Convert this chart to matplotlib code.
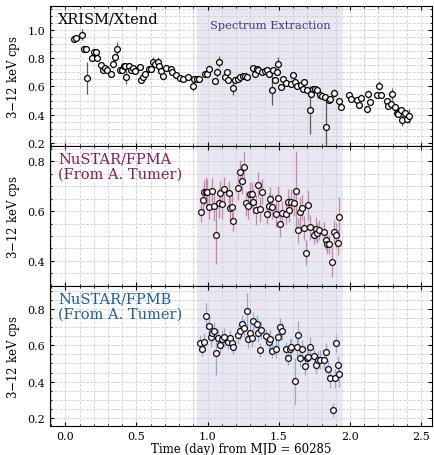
import numpy as np
import matplotlib
matplotlib.use("Agg")
import matplotlib.pyplot as plt
from matplotlib.ticker import MultipleLocator

# XRISM/Xtend light curve (time in day, rate in cps)
xt_t = [0.063, 0.077, 0.120, 0.130, 0.143, 0.152, 0.187, 0.204, 0.213, 0.222,
        0.253, 0.264, 0.278, 0.292, 0.323, 0.335, 0.351, 0.363, 0.381, 0.395,
        0.409, 0.421, 0.430, 0.449, 0.463, 0.475, 0.489, 0.522, 0.531, 0.545,
        0.559, 0.589, 0.601, 0.615, 0.632, 0.648, 0.660, 0.674, 0.685, 0.706,
        0.744, 0.753, 0.781, 0.809, 0.828, 0.863, 0.894, 0.905, 0.924, 0.938,
        0.982, 0.999, 1.011, 1.055, 1.066, 1.078, 1.125, 1.137, 1.144, 1.181,
        1.195, 1.211, 1.228, 1.246, 1.265, 1.280, 1.322, 1.333, 1.345, 1.354,
        1.382, 1.403, 1.415, 1.430, 1.449, 1.460, 1.474, 1.485, 1.495, 1.516,
        1.532, 1.551, 1.584, 1.602, 1.614, 1.630, 1.658, 1.672, 1.680, 1.696,
        1.719, 1.729, 1.743, 1.757, 1.766, 1.789, 1.806, 1.822, 1.834, 1.850,
        1.860, 1.890, 1.923, 1.934, 1.995, 2.005, 2.047, 2.061, 2.075, 2.122,
        2.130, 2.144, 2.192, 2.201, 2.215, 2.257, 2.269, 2.285, 2.295, 2.316,
        2.327, 2.339, 2.356, 2.365, 2.386, 2.398, 2.412]
xt_r = [0.934, 0.946, 0.965, 0.864, 0.864, 0.660, 0.800, 0.847, 0.847, 0.800,
        0.753, 0.718, 0.729, 0.713, 0.690, 0.760, 0.805, 0.864, 0.718, 0.718,
        0.748, 0.748, 0.670, 0.746, 0.718, 0.729, 0.706, 0.736, 0.647, 0.664,
        0.690, 0.722, 0.722, 0.776, 0.760, 0.776, 0.746, 0.711, 0.675, 0.732,
        0.722, 0.704, 0.682, 0.661, 0.652, 0.670, 0.605, 0.656, 0.656, 0.656,
        0.690, 0.690, 0.722, 0.635, 0.699, 0.776, 0.670, 0.699, 0.647, 0.586,
        0.647, 0.654, 0.666, 0.675, 0.675, 0.670, 0.729, 0.690, 0.722, 0.713,
        0.699, 0.706, 0.713, 0.685, 0.572, 0.713, 0.647, 0.704, 0.758, 0.595,
        0.652, 0.624, 0.619, 0.682, 0.628, 0.600, 0.612, 0.581, 0.628, 0.576,
        0.435, 0.548, 0.581, 0.581, 0.576, 0.541, 0.534, 0.522, 0.310, 0.501,
        0.513, 0.553, 0.494, 0.454, 0.541, 0.511, 0.501, 0.471, 0.518, 0.440,
        0.546, 0.487, 0.541, 0.605, 0.541, 0.494, 0.463, 0.478, 0.546, 0.454,
        0.412, 0.407, 0.435, 0.360, 0.412, 0.369, 0.388]
xt_e = [0.015, 0.015, 0.04, 0.02, 0.02, 0.11, 0.02, 0.02, 0.02, 0.02,
        0.02, 0.02, 0.02, 0.02, 0.02, 0.03, 0.03, 0.05, 0.02, 0.02,
        0.02, 0.02, 0.05, 0.02, 0.02, 0.02, 0.02, 0.02, 0.02, 0.02,
        0.02, 0.02, 0.02, 0.03, 0.02, 0.03, 0.02, 0.02, 0.03, 0.02,
        0.02, 0.02, 0.02, 0.02, 0.02, 0.02, 0.04, 0.02, 0.02, 0.02,
        0.02, 0.02, 0.03, 0.02, 0.03, 0.04, 0.02, 0.02, 0.02, 0.05,
        0.02, 0.02, 0.02, 0.02, 0.02, 0.02, 0.02, 0.02, 0.02, 0.02,
        0.02, 0.02, 0.02, 0.02, 0.10, 0.02, 0.02, 0.02, 0.05, 0.02,
        0.02, 0.02, 0.02, 0.02, 0.02, 0.02, 0.02, 0.02, 0.02, 0.02,
        0.17, 0.02, 0.02, 0.02, 0.02, 0.02, 0.02, 0.02, 0.20, 0.02,
        0.02, 0.03, 0.02, 0.02, 0.02, 0.02, 0.02, 0.02, 0.02, 0.02,
        0.03, 0.02, 0.02, 0.03, 0.02, 0.02, 0.02, 0.02, 0.04, 0.02,
        0.02, 0.02, 0.02, 0.04, 0.02, 0.03, 0.05]

# NuSTAR/FPMA
fa_t = [0.952, 0.964, 0.975, 0.987, 0.999, 1.013, 1.034, 1.048, 1.060, 1.078,
        1.090, 1.102, 1.113, 1.148, 1.158, 1.170, 1.181, 1.214, 1.228, 1.240,
        1.254, 1.270, 1.284, 1.296, 1.310, 1.322, 1.343, 1.357, 1.368, 1.382,
        1.415, 1.430, 1.439, 1.453, 1.483, 1.495, 1.509, 1.523, 1.551, 1.563,
        1.572, 1.586, 1.609, 1.623, 1.633, 1.647, 1.661, 1.677, 1.691, 1.705,
        1.717, 1.745, 1.759, 1.771, 1.785, 1.818, 1.829, 1.841, 1.855, 1.876,
        1.890, 1.902, 1.913, 1.925]
fa_r = [0.598, 0.644, 0.675, 0.675, 0.677, 0.617, 0.681, 0.622, 0.506, 0.634,
        0.671, 0.628, 0.688, 0.671, 0.611, 0.617, 0.561, 0.693, 0.756, 0.719,
        0.779, 0.631, 0.620, 0.667, 0.667, 0.638, 0.605, 0.706, 0.607, 0.677,
        0.587, 0.622, 0.647, 0.618, 0.587, 0.651, 0.548, 0.591, 0.587, 0.638,
        0.605, 0.638, 0.632, 0.680, 0.523, 0.598, 0.614, 0.532, 0.433, 0.624,
        0.535, 0.506, 0.528, 0.512, 0.523, 0.516, 0.482, 0.466, 0.466, 0.397,
        0.516, 0.503, 0.473, 0.576]
fa_e = [0.04, 0.05, 0.05, 0.06, 0.05, 0.05, 0.05, 0.06, 0.12, 0.06,
        0.05, 0.06, 0.05, 0.05, 0.05, 0.05, 0.04, 0.05, 0.05, 0.05,
        0.06, 0.05, 0.05, 0.05, 0.05, 0.05, 0.06, 0.05, 0.05, 0.05,
        0.04, 0.05, 0.05, 0.05, 0.05, 0.05, 0.05, 0.05, 0.04, 0.05,
        0.05, 0.05, 0.05, 0.16, 0.05, 0.06, 0.05, 0.05, 0.05, 0.06,
        0.05, 0.04, 0.05, 0.04, 0.04, 0.04, 0.04, 0.04, 0.04, 0.06,
        0.05, 0.05, 0.05, 0.08]

# NuSTAR/FPMB
fb_t = [0.947, 0.961, 0.975, 0.987, 1.008, 1.022, 1.034, 1.043, 1.057, 1.076,
        1.090, 1.099, 1.113, 1.144, 1.158, 1.170, 1.181, 1.214, 1.228, 1.240,
        1.254, 1.275, 1.287, 1.298, 1.310, 1.322, 1.345, 1.354, 1.368, 1.378,
        1.410, 1.430, 1.439, 1.451, 1.483, 1.495, 1.509, 1.523, 1.551, 1.565,
        1.577, 1.588, 1.612, 1.626, 1.635, 1.647, 1.661, 1.682, 1.696, 1.705,
        1.717, 1.749, 1.763, 1.777, 1.789, 1.820, 1.831, 1.843, 1.857, 1.878,
        1.892, 1.902, 1.913, 1.925]
fb_r = [0.615, 0.580, 0.620, 0.763, 0.707, 0.644, 0.667, 0.680, 0.556, 0.639,
        0.602, 0.633, 0.644, 0.620, 0.643, 0.611, 0.593, 0.657, 0.681, 0.719,
        0.694, 0.793, 0.635, 0.667, 0.643, 0.735, 0.717, 0.670, 0.574, 0.685,
        0.652, 0.620, 0.633, 0.569, 0.583, 0.648, 0.700, 0.680, 0.578, 0.531,
        0.583, 0.593, 0.402, 0.593, 0.657, 0.528, 0.578, 0.487, 0.528, 0.537,
        0.594, 0.541, 0.494, 0.519, 0.522, 0.522, 0.565, 0.472, 0.417, 0.244,
        0.417, 0.611, 0.494, 0.441]
fb_e = [0.04, 0.04, 0.05, 0.07, 0.06, 0.05, 0.05, 0.05, 0.12, 0.05,
        0.05, 0.05, 0.05, 0.04, 0.04, 0.04, 0.04, 0.05, 0.05, 0.05,
        0.05, 0.10, 0.05, 0.05, 0.05, 0.05, 0.05, 0.05, 0.04, 0.05,
        0.04, 0.05, 0.05, 0.04, 0.05, 0.05, 0.05, 0.05, 0.04, 0.04,
        0.05, 0.05, 0.13, 0.05, 0.08, 0.05, 0.05, 0.05, 0.05, 0.05,
        0.05, 0.04, 0.05, 0.05, 0.05, 0.05, 0.05, 0.05, 0.05, 0.04,
        0.05, 0.05, 0.05, 0.07]

span = (0.923, 1.95)

plt.rcParams.update({
    "font.family": "DejaVu Serif",
    "font.size": 8,
    "xtick.direction": "in", "ytick.direction": "in",
    "xtick.top": True, "ytick.right": True,
    "xtick.minor.visible": True, "ytick.minor.visible": True,
    "xtick.major.size": 3, "ytick.major.size": 3,
    "xtick.minor.size": 1.5, "ytick.minor.size": 1.5,
    "axes.linewidth": 0.8,
})

fig, axes = plt.subplots(3, 1, figsize=(4.34, 4.56), dpi=100, sharex=True)
fig.subplots_adjust(left=0.116, right=0.995, top=0.985, bottom=0.064, hspace=0)

panels = [
    (axes[0], xt_t, xt_r, xt_e, "black", "0.35", "XRISM/Xtend", (0.18, 1.17)),
    (axes[1], fa_t, fa_r, fa_e, "#8a1c5a", "#c487a8", "NuSTAR/FPMA\n(From A. Tumer)", (0.30, 0.862)),
    (axes[2], fb_t, fb_r, fb_e, "#1f5f97", "#86afd6", "NuSTAR/FPMB\n(From A. Tumer)", (0.155, 0.93)),
]

for ax, t, r, e, tc, ec, label, ylim in panels:
    ax.axvspan(*span, color="#e9e7f1", zorder=0, lw=0)
    ax.errorbar(t, r, yerr=e, fmt="o", ms=4.2, mfc="white",
                mec="black" if tc == "black" else "#1a0a14", mew=0.9,
                ecolor=ec, elinewidth=0.9, capsize=0, zorder=3)
    ax.set_ylim(*ylim)
    ax.set_xlim(-0.105, 2.575)
    ax.yaxis.set_major_locator(MultipleLocator(0.2))
    ax.yaxis.set_minor_locator(MultipleLocator(0.05))
    ax.xaxis.set_major_locator(MultipleLocator(0.5))
    ax.xaxis.set_minor_locator(MultipleLocator(0.1))
    ax.grid(True, which="both", ls="--", lw=0.6, color="#cfcfcf", zorder=1)
    ax.set_axisbelow(True)
    ax.set_ylabel("3$-$12 keV cps", fontsize=8.5)
    ax.text(0.02, 0.96, label, transform=ax.transAxes, ha="left", va="top",
            fontsize=10.5, color=tc, linespacing=1.15, zorder=4)

axes[0].text(1.44, 1.035, "Spectrum Extraction", ha="center", va="center",
             fontsize=8.2, color="#4a2a8c")
axes[2].set_xlabel("Time (day) from MJD = 60285", fontsize=8.5, labelpad=1)

fig.savefig("out.png", dpi=100)
